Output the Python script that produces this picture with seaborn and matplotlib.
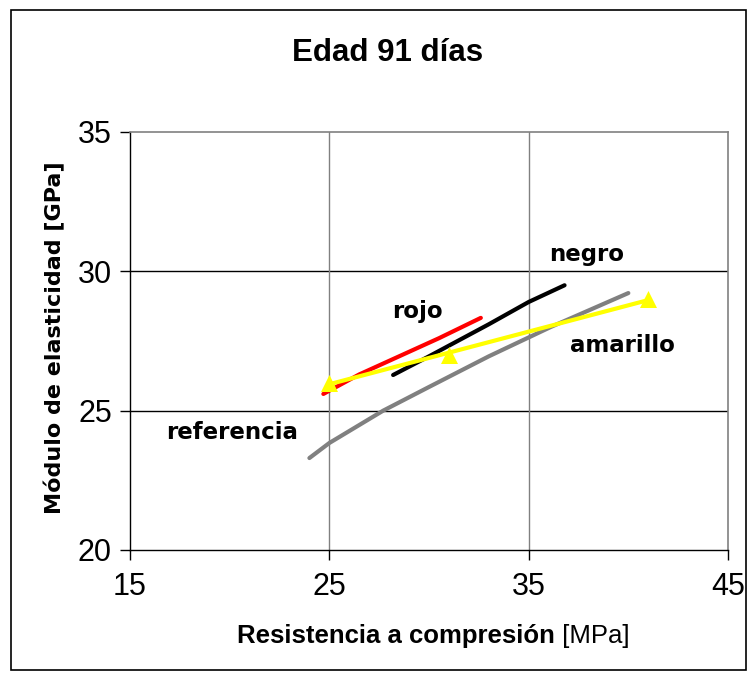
import matplotlib
matplotlib.use("Agg")
import matplotlib.pyplot as plt
from matplotlib.patches import Rectangle
import seaborn as sns
import pandas as pd

# Measured curves: compressive strength [MPa] vs. elastic modulus [GPa]
ref_x = [24.0, 25.0, 27.7, 30.0, 33.0, 36.1, 40.0]
ref_y = [23.3, 23.84, 25.0, 25.85, 26.95, 28.0, 29.22]

rojo_x = [24.7, 26.5, 28.5, 30.5, 32.6]
rojo_y = [25.6, 26.3, 26.95, 27.6, 28.33]

negro_x = [28.2, 30.0, 33.0, 35.0, 36.8]
negro_y = [26.28, 26.95, 28.1, 28.9, 29.5]

# Yellow mix: three test results, drawn with a linear trend
amarillo_x = [25.0, 31.0, 41.0]
amarillo_y = [26.0, 27.0, 29.0]

series_labels = ["referencia", "rojo", "negro", "amarillo"]
x_ticks = [15, 25, 35, 45]
y_ticks = [20, 25, 30, 35]

sns.set_style("white")
plt.rcParams.update({
    "text.color": "#000000",
    "axes.labelcolor": "#000000",
    "xtick.color": "#000000",
    "ytick.color": "#000000",
})

fig = plt.figure(figsize=(7.55, 6.77), dpi=100)
ax = fig.add_axes([130 / 755, 1 - 550 / 677, (728 - 130) / 755, (550 - 132) / 677])

curves = pd.concat([
    pd.DataFrame({"x": ref_x, "y": ref_y, "serie": "referencia"}),
    pd.DataFrame({"x": rojo_x, "y": rojo_y, "serie": "rojo"}),
    pd.DataFrame({"x": negro_x, "y": negro_y, "serie": "negro"}),
])
palette = {"referencia": "#808080", "rojo": "#FF0000", "negro": "#000000"}
sns.lineplot(data=curves, x="x", y="y", hue="serie", palette=palette,
             sort=False, estimator=None, linewidth=3.0, legend=False, ax=ax,
             zorder=3)

amarillo = pd.DataFrame({"x": amarillo_x, "y": amarillo_y})
sns.regplot(data=amarillo, x="x", y="y", ci=None, scatter=False,
            line_kws={"color": "#FFFF00", "linewidth": 3.0, "zorder": 4}, ax=ax)
sns.scatterplot(data=amarillo, x="x", y="y", marker="^", s=150,
                color="#FFFF00", edgecolor="#FFFF00", linewidth=0, ax=ax,
                zorder=5)

ax.set_xlim(15, 45)
ax.set_ylim(20, 35)
ax.set_xticks(x_ticks)
ax.set_yticks(y_ticks)
ax.set_xlabel("")
ax.set_ylabel("")

# Grid: black horizontals, grey verticals
for yv in y_ticks[1:-1]:
    ax.axhline(yv, color="#000000", linewidth=1.0, zorder=1)
for xv in x_ticks[1:-1]:
    ax.axvline(xv, color="#808080", linewidth=1.0, zorder=1)

for side in ["top", "right"]:
    ax.spines[side].set_color("#808080")
    ax.spines[side].set_linewidth(1.2)
for side in ["left", "bottom"]:
    ax.spines[side].set_color("#000000")
    ax.spines[side].set_linewidth(1.0)

ax.tick_params(axis="both", direction="out", length=7, width=1.0,
               color="#000000", labelcolor="#000000", labelsize=22, pad=6,
               left=True, bottom=True)
for lab in ax.get_xticklabels() + ax.get_yticklabels():
    lab.set_fontfamily("Liberation Sans")
ax.tick_params(axis="x", pad=9)

# Series labels
lab_font = dict(fontfamily="DejaVu Sans", fontweight="bold", fontsize=16.5,
                ha="center", va="center", color="#000000")
ax.text(37.9, 30.6, "negro", **lab_font)
ax.text(29.4, 28.55, "rojo", **lab_font)
ax.text(39.7, 27.35, "amarillo", **lab_font)
ax.text(20.1, 24.2, "referencia", **lab_font)

# Title and axis titles
fig.text(388 / 755, 1 - 53 / 677, "Edad 91 días", ha="center", va="center",
         fontfamily="Liberation Sans", fontweight="bold", fontsize=22.5)

xl = fig.text(237 / 755, 1 - 636 / 677, "Resistencia a compresión",
              ha="left", va="center", fontfamily="Liberation Sans",
              fontweight="bold", fontsize=18.5)
fig.canvas.draw()
ax.annotate(" [MPa]", xy=(1.0, 0.5), xycoords=xl, ha="left", va="center",
            fontfamily="Liberation Sans", fontsize=18.5)

fig.text(55 / 755, 1 - 338 / 677, "Módulo de elasticidad [GPa]",
         rotation=90, ha="center", va="center", fontfamily="DejaVu Sans",
         fontweight="bold", fontsize=16)

# Outer chart frame
fig.patches.append(Rectangle((11 / 755, 1 - 670 / 677), (746 - 11) / 755,
                             (670 - 10) / 677, transform=fig.transFigure,
                             fill=False, edgecolor="#000000", linewidth=1.2))

fig.savefig("out.png", dpi=100)
